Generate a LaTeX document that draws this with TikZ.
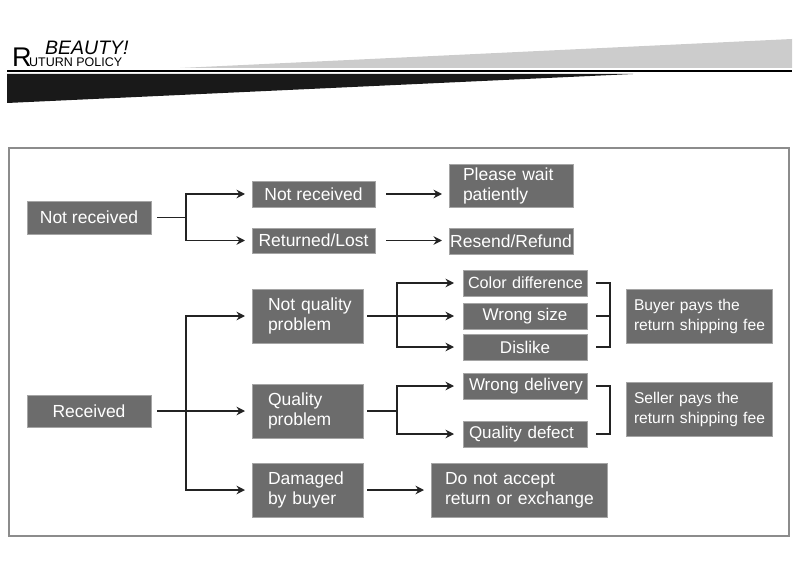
\documentclass[tikz,border=0pt]{standalone}
\usepackage{fontspec}
\setmainfont{Liberation Sans}
\usetikzlibrary{arrows.meta}

\definecolor{boxgray}{RGB}{108,108,108}
\definecolor{boxedge}{RGB}{165,165,165}
\definecolor{wiregray}{RGB}{35,35,35}
\definecolor{framegray}{RGB}{140,140,140}
\definecolor{bandgray}{RGB}{204,204,204}

\newcommand\boxpadding{0pt}
\newcommand\padtext{\raggedright\leftskip=\boxpadding\relax\hyphenpenalty=10000\relax}

\tikzset{
	box/.style={fill=boxgray, draw=boxedge, line width=0.8pt, text=white,
		anchor=north west, inner sep=0pt, outer sep=0pt,
		font=\fontsize{17.5}{20}\selectfont},
	smallbox/.style={box, font=\fontsize{17}{19}\selectfont},
	leftpad/.code={\renewcommand\boxpadding{#1}},
	leftbox/.style 2 args={text width=#1, inner xsep=0pt, leftpad=#2,
		execute at begin node=\padtext},
	feebox/.style={box, font=\fontsize{15.6}{20}\selectfont},
	wire/.style={draw=wiregray, line width=1.6pt},
	arr/.style={wire, -{Stealth[length=8.5pt,width=8.5pt]}, shorten >=7pt},
	headtext/.style={anchor=base west, inner sep=0pt},
}

\begin{document}
\begin{tikzpicture}[x=1pt,y=-1pt]
\useasboundingbox (0,0) rectangle (800,580);
%----------------------------
% Header band
%----------------------------
\fill[bandgray] (180,68) -- (792,39) -- (792,68) -- cycle;
\draw[line width=2.4pt] (7,71) -- (792,71);
\fill[black!90] (7,74) -- (633,74) -- (7,103) -- cycle;
\node[headtext, font=\fontsize{27}{27}\selectfont] (logoR) at (12,67) {R};
\node[headtext, font=\fontsize{19.5}{19.5}\selectfont\itshape] (beauty) at (45,54.5) {BEAUTY!};
\node[headtext, font=\fontsize{12.5}{12.5}\selectfont] (policy) at (29,67) {UTURN POLICY};

% outer frame
\draw[framegray, line width=1.2pt] (9,148) rectangle (789,536);

%----------------------------
% Top: not received
%----------------------------
\node[box, minimum width=124, minimum height=33] (nr) at (27,201) {Not received};
\node[box, minimum width=123, minimum height=26] (nrc) at (252,181) {Not received};
\node[box, minimum width=123, minimum height=25] (rl) at (252,228) {Returned/Lost};
\node[box, leftbox={124pt}{14pt}, minimum height=43] (pw) at (449,164) {Please wait\\patiently};
\node[box, minimum width=124, minimum height=26] (rr) at (449,228) {Resend/Refund};

\draw[wire, shorten <=6pt] (nr.east) -- ++(35,0) coordinate (nrj);
\draw[arr] (nrj) |- (nrc.west);
\draw[arr] (nrj) |- (rl.west);
\draw[arr, shorten <=11pt] (nrc.east) -- (nrc.east -| pw.west);
\draw[arr, shorten <=11pt] (rl.east) -- (rl.east -| rr.west);

%----------------------------
% Bottom: received
%----------------------------
\node[box, minimum width=124, minimum height=32] (rc) at (27,395) {Received};
\node[box, leftbox={111pt}{16pt}, minimum height=54] (nq) at (252,289) {Not quality\\problem};
\node[box, leftbox={111pt}{16pt}, minimum height=54] (qp) at (252,384) {Quality\\problem};
\node[box, leftbox={111pt}{16pt}, minimum height=54] (db) at (252,463) {Damaged\\by buyer};

\node[smallbox, leftbox={124pt}{5pt}, minimum height=26,
	font=\fontsize{16.2}{19}\selectfont] (cd) at (463,270) {Color difference};
\node[smallbox, minimum width=124, minimum height=26] (ws) at (463,303) {Wrong size};
\node[smallbox, minimum width=124, minimum height=26] (dl) at (463,334) {Dislike};
\node[smallbox, leftbox={124pt}{6pt}, minimum height=26] (wd) at (463,373) {Wrong delivery};
\node[smallbox, leftbox={124pt}{6pt}, minimum height=26] (qd) at (463,421) {Quality defect};

\node[feebox, leftbox={146pt}{8pt}, minimum height=54] (bp) at (626,289) {Buyer pays the\\return shipping fee};
\node[feebox, leftbox={146pt}{8pt}, minimum height=54] (sp) at (626,382) {Seller pays the\\return shipping fee};
\node[box, leftbox={176pt}{14pt}, minimum height=54] (da) at (431,463) {Do not accept\\return or exchange};

% received -> three cases
\draw[wire, shorten <=6pt] (rc.east) -- ++(35,0) coordinate (rcj);
\draw[arr] (rcj) |- (nq.west);
\draw[arr] (rcj) -- (qp.west);
\draw[arr] (rcj) |- (db.west);

% not quality problem
\draw[wire, shorten <=4pt] (nq.east) -- ++(34,0) coordinate (nqj);
\draw[arr, shorten >=9pt] (nqj) |- (cd.west);
\draw[arr, shorten >=9pt] (nqj) -- (ws.west);
\draw[arr, shorten >=9pt] (nqj) |- (dl.west);

% quality problem
\draw[wire, shorten <=4pt] (qp.east) -- ++(34,0) coordinate (qpj);
\draw[arr, shorten >=9pt] (qpj) |- (wd.west);
\draw[arr, shorten >=9pt] (qpj) |- (qd.west);

% damaged by buyer
\draw[arr, shorten <=4pt] (db.east) -- (da.west);

% brackets
\draw[wire] ([xshift=9pt]cd.east) -| ([xshift=23pt]dl.east) -- ([xshift=9pt]dl.east);
\draw[wire] ([xshift=9pt]ws.east) -- ++(14,0);
\draw[wire] ([xshift=9pt]wd.east) -| ([xshift=23pt]qd.east) -- ([xshift=9pt]qd.east);

\end{tikzpicture}
\end{document}
